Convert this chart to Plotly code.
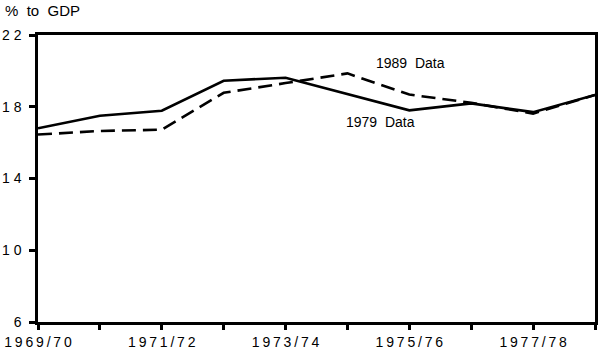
import plotly.graph_objects as go

years = ["1969/70", "1970/71", "1971/72", "1972/73", "1973/74",
         "1974/75", "1975/76", "1976/77", "1977/78", "1978/79"]
data_1979 = [16.8, 17.5, 17.78, 19.45, 19.62, 18.72, 17.8, 18.19, 17.7, 18.66]
data_1989 = [16.45, 16.65, 16.72, 18.78, 19.32, 19.86, 18.68, 18.22, 17.62, 18.66]
x_labels = ["1969/70", "", "1971/72", "", "1973/74", "", "1975/76", "", "1977/78", ""]
y_ticks = [6, 10, 14, 18, 22]
y_labels = ["6", "1 0", "1 4", "1 8", "2 2"]

def spaced(s):
    return "\u2009".join(s) if s else s

xs = list(range(len(years)))

fig = go.Figure()
fig.add_trace(go.Scatter(x=xs, y=data_1979, mode="lines", name="1979 Data",
                         line=dict(color="black", width=2.6)))
fig.add_trace(go.Scatter(x=xs, y=data_1989, mode="lines", name="1989 Data",
                         line=dict(color="black", width=2.6, dash="14px,7px")))

font = dict(family="Liberation Sans, Arial, sans-serif", size=14, color="black")

fig.update_layout(
    width=600, height=353,
    margin=dict(l=36, r=2, t=35, b=31),
    paper_bgcolor="white", plot_bgcolor="white",
    showlegend=False,
    font=font,
    xaxis=dict(range=[0, 9], tickmode="array", tickvals=xs,
               ticktext=[spaced(t) for t in x_labels],
               showline=True, linecolor="black", linewidth=2.5, mirror=True,
               ticks="outside", ticklen=5, tickwidth=2.5, tickcolor="black",
               showgrid=False, zeroline=False, tickfont=font),
    yaxis=dict(range=[6, 22], tickmode="array", tickvals=y_ticks, ticktext=y_labels,
               showline=True, linecolor="black", linewidth=2.5, mirror=True,
               ticks="outside", ticklen=6, tickwidth=2.5, tickcolor="black",
               ticklabelstandoff=5,
               showgrid=False, zeroline=False, tickfont=font),
    annotations=[
        dict(text="%&nbsp; to&nbsp; GDP", xref="paper", yref="paper", x=0, y=1,
             xanchor="left", yanchor="bottom", xshift=-35, yshift=14,
             showarrow=False, font=dict(family=font["family"], size=15, color="black")),
        dict(text="1989&nbsp;&nbsp;Data", xref="x", yref="y", x=6.02, y=20.44,
             showarrow=False, font=font),
        dict(text="1979&nbsp;&nbsp;Data", xref="x", yref="y", x=5.53, y=17.15,
             showarrow=False, font=font),
    ],
)

fig.write_html("out.html")
